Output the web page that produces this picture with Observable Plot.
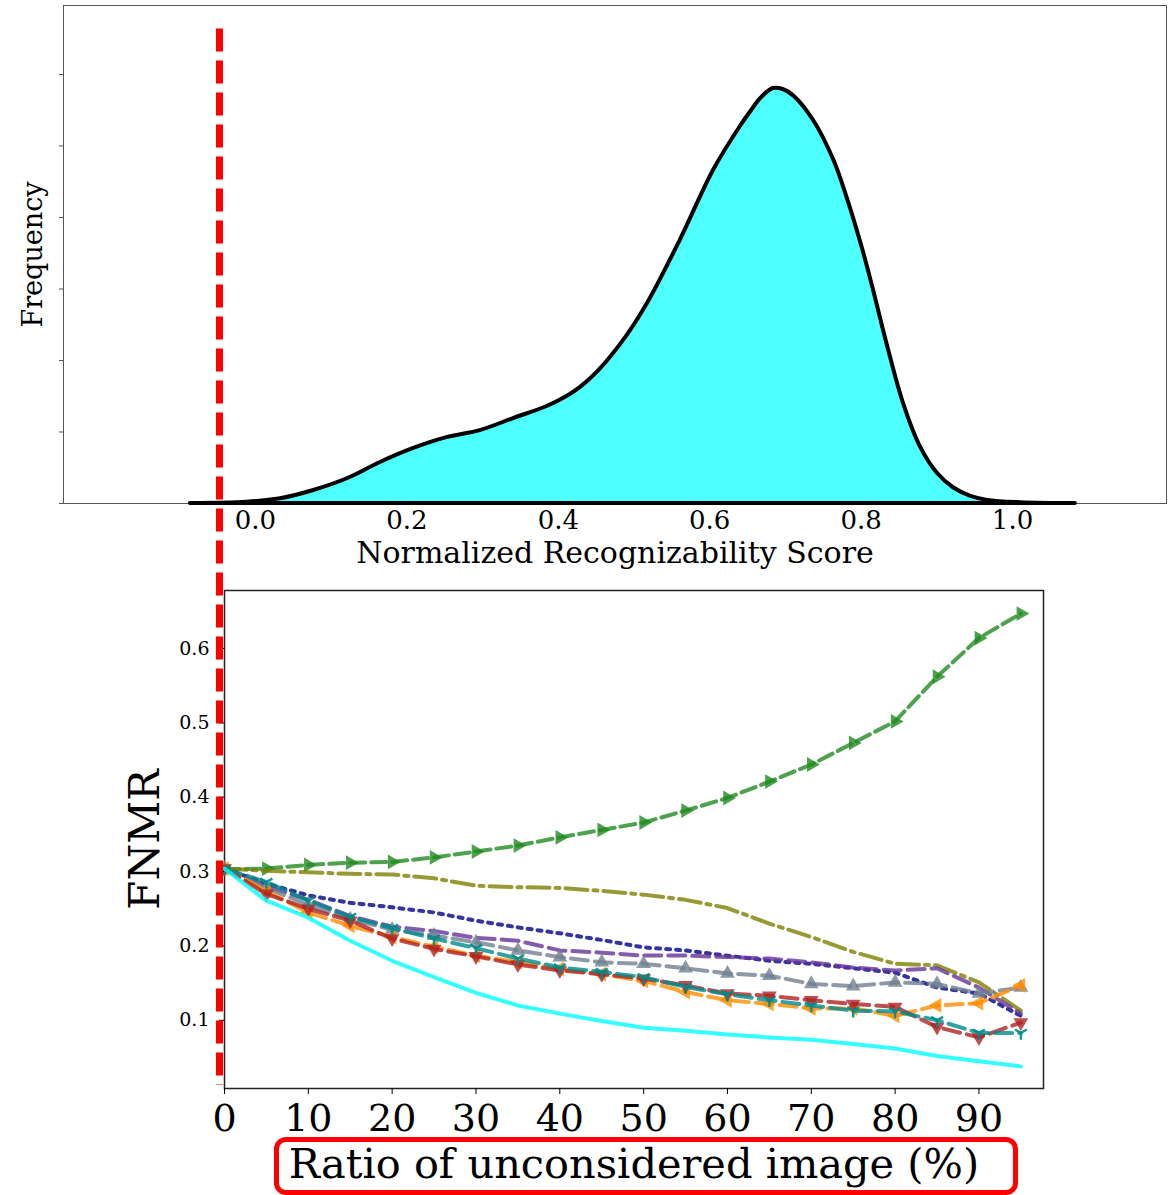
<!DOCTYPE html>
<html><head><meta charset="utf-8">
<script src="https://cdn.jsdelivr.net/npm/d3@7"></script>
<script src="https://cdn.jsdelivr.net/npm/@observablehq/plot@0.6"></script>
<style>
body{margin:0;background:#fff;}
#wrap{position:relative;width:1174px;height:1195px;overflow:hidden;font-family:"DejaVu Serif",serif;background:#fff;}
#top,#bot{position:absolute;left:0;}
#top{top:0}
#bot{top:580px}
#box{position:absolute;left:274px;top:1137px;width:744px;height:58px;border:5px solid #ff0000;border-radius:12px;box-sizing:border-box;}
</style></head><body>
<div id="wrap"><div id="top"></div><div id="bot"></div><div id="box"></div></div>
<script>
// ---------- Top panel data: density of normalized recognizability score ----------
const scoreX = [-0.086,-0.011,0.033,0.077,0.122,0.165,0.209,0.254,0.297,0.341,0.386,0.412,0.429,0.452,0.489,0.518,0.561,0.605,0.641,0.655,0.667,0.684,0.697,0.711,0.737,0.764,0.782,0.803,0.816,0.835,0.856,0.878,0.901,0.922,0.945,0.967,1.011,1.083];
const density = [0,0.009,0.033,0.091,0.175,0.287,0.385,0.462,0.510,0.594,0.680,0.750,0.810,0.920,1.160,1.400,1.839,2.329,2.640,2.745,2.830,2.902,2.895,2.850,2.680,2.400,2.130,1.760,1.500,1.100,0.700,0.400,0.210,0.110,0.050,0.022,0.006,0];
const scoreTicks = [0,0.2,0.4,0.6,0.8,1.0];
const freqTicks = [0,0.5,1,1.5,2,2.5,3];

// ---------- Bottom panel data: FNMR vs ratio of unconsidered images ----------
const ratio = [0,5,10,15,20,25,30,35,40,45,50,55,60,65,70,75,80,85,90,95];
const sGreen  = [0.303,0.304,0.309,0.312,0.313,0.319,0.327,0.335,0.346,0.356,0.366,0.382,0.399,0.421,0.444,0.473,0.502,0.562,0.614,0.647];
const sOlive  = [0.304,0.301,0.299,0.297,0.296,0.291,0.281,0.279,0.278,0.274,0.269,0.262,0.251,0.230,0.212,0.192,0.176,0.174,0.151,0.113];
const sNavy   = [0.304,0.284,0.268,0.258,0.252,0.245,0.234,0.225,0.217,0.208,0.198,0.194,0.187,0.180,0.176,0.170,0.164,0.144,0.136,0.106];
const sPurple = [0.304,0.280,0.262,0.240,0.226,0.220,0.211,0.207,0.194,0.191,0.187,0.187,0.185,0.183,0.178,0.171,0.167,0.170,0.144,0.109];
const sGray   = [0.304,0.278,0.255,0.236,0.222,0.214,0.205,0.194,0.185,0.178,0.176,0.170,0.163,0.160,0.149,0.146,0.151,0.149,0.136,0.144];
const sOrange = [0.304,0.274,0.245,0.227,0.212,0.199,0.187,0.178,0.169,0.162,0.153,0.138,0.127,0.122,0.116,0.116,0.106,0.120,0.123,0.147];
const sRed    = [0.304,0.270,0.250,0.234,0.210,0.196,0.186,0.175,0.167,0.162,0.156,0.147,0.136,0.133,0.127,0.122,0.118,0.091,0.077,0.097];
const sTeal   = [0.304,0.286,0.261,0.239,0.224,0.210,0.197,0.183,0.171,0.165,0.158,0.145,0.135,0.127,0.120,0.113,0.112,0.100,0.083,0.083];
const sCyan   = [0.304,0.261,0.238,0.207,0.180,0.158,0.137,0.120,0.109,0.099,0.090,0.086,0.081,0.077,0.074,0.068,0.062,0.052,0.045,0.038];
const ratioTicks = [0,10,20,30,40,50,60,70,80,90];
const fnmrTicks = [0.1,0.2,0.3,0.4,0.5,0.6];

// marker line (threshold) in bottom-panel data coordinates
const markerX = -0.596;
const markerYTop = 1.433, markerYBottom = 0.0124;

// ---------- styles ----------
const triDown = {draw(ctx, size){ const r = Math.sqrt(size/Math.PI)*1.25; ctx.moveTo(0,0); ctx.lineTo(0,r); ctx.moveTo(0,0); ctx.lineTo(-r*0.866,-r*0.5); ctx.moveTo(0,0); ctx.lineTo(r*0.866,-r*0.5);} };
const series = [
  {vals:sGreen,  color:"forestgreen",  dash:"15,6",            symbol:"triangle", rotate:90},
  {vals:sOlive,  color:"olive",        dash:"22,6,4,6",        symbol:null},
  {vals:sNavy,   color:"#00008b",      dash:"4,6",             symbol:null},
  {vals:sPurple, color:"rebeccapurple",dash:"17,7",            symbol:null},
  {vals:sGray,   color:"slategray",    dash:"17,7",            symbol:"triangle", rotate:0},
  {vals:sOrange, color:"darkorange",   dash:"17,7",            symbol:"triangle", rotate:-90},
  {vals:sRed,    color:"firebrick",    dash:"17,7",            symbol:"triangle", rotate:180},
  {vals:sTeal,   color:"darkcyan",     dash:"17,7",            symbol:"tri"},
  {vals:sCyan,   color:"cyan",         dash:null,              symbol:null}
];

// ---------- top plot ----------
const densData = scoreX.map((x,i)=>({x, y: density[i]}));
const topPlot = Plot.plot({
  width:1174, height:580,
  marginLeft:63, marginRight:8, marginTop:5, marginBottom:77,
  x:{domain:[-0.2536,1.2034]},
  y:{domain:[0,3.4825]},
  style:{fontFamily:"DejaVu Serif", background:"white", color:"black"},
  marks:[
    Plot.frame({stroke:"#555", strokeWidth:1}),
    Plot.areaY(densData, {x:"x", y:"y", fill:"#4dffff", stroke:"black", strokeWidth:4, curve:"catmull-rom", strokeLinejoin:"round"}),
    Plot.axisX({ticks:scoreTicks, tickFormat:d=>d.toFixed(1), tickSize:0, tickPadding:7, fontSize:26, label:null}),
    Plot.axisY({ticks:freqTicks, tickSize:4, tickFormat:()=>"", label:null, stroke:"#555"}),
    Plot.text(["Normalized Recognizability Score"], {text:d=>d, frameAnchor:"bottom", dy:38, lineAnchor:"top", textAnchor:"middle", fontSize:30}),
    Plot.text(["Frequency"], {text:d=>d, frameAnchor:"left", dx:-30, rotate:-90, textAnchor:"middle", fontSize:27})
  ]
});
document.getElementById("top").append(topPlot);

// ---------- bottom plot ----------
const marks = [Plot.frame({stroke:"#222", strokeWidth:1.5})];
for (const s of series) {
  const data = ratio.map((r,i)=>({r, v:s.vals[i]}));
  marks.push(Plot.line(data, {x:"r", y:"v", stroke:s.color, strokeOpacity:0.8, strokeWidth:4, strokeDasharray:s.dash || undefined}));
  if (s.symbol === "triangle") {
    marks.push(Plot.dot(data, {x:"r", y:"v", symbol:"triangle", rotate:s.rotate, r:5.5, fill:s.color, fillOpacity:0.8, stroke:"none"}));
  } else if (s.symbol === "tri") {
    marks.push(Plot.dot(data, {x:"r", y:"v", symbol:triDown, r:5.5, fill:"none", stroke:s.color, strokeOpacity:0.9, strokeWidth:2.5}));
  }
}
marks.push(
  Plot.axisX({ticks:ratioTicks, tickFormat:d=>String(d), tickSize:6, tickPadding:10, fontSize:38, label:null}),
  Plot.axisY({ticks:fnmrTicks, tickFormat:d=>d.toFixed(1), tickSize:5, tickPadding:10, fontSize:19, label:null}),
  Plot.text(["FNMR"], {text:d=>d, frameAnchor:"left", dx:-79, rotate:-90, textAnchor:"middle", fontSize:42}),
  Plot.text(["Ratio of unconsidered image (%)"], {text:d=>d, frameAnchor:"bottom", dy:60, lineAnchor:"top", textAnchor:"middle", fontSize:41.5}),
  Plot.ruleX([markerX], {x:d=>d, y1:markerYTop, y2:markerYBottom, stroke:"#ff0000", strokeWidth:7, strokeDasharray:"23,9"})
);
const botPlot = Plot.plot({
  width:1174, height:615,
  marginLeft:224, marginRight:131, marginTop:10, marginBottom:107,
  x:{domain:[0,97.7]},
  y:{domain:[0.0083,0.678]},
  style:{fontFamily:"DejaVu Serif", background:"transparent", overflow:"visible", color:"black"},
  marks
});
document.getElementById("bot").append(botPlot);
</script>
</body></html>
